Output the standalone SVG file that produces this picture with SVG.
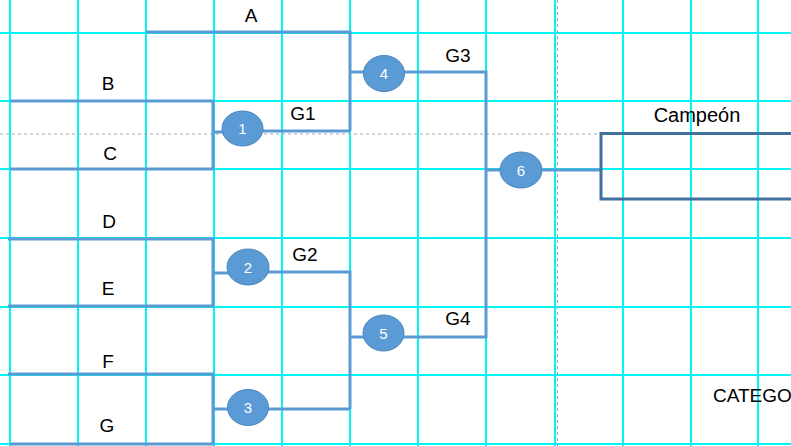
<svg xmlns="http://www.w3.org/2000/svg" width="791" height="446" viewBox="0 0 791 446">
<style>
.grid line{stroke:#00F5F5;stroke-width:2}
.dash{stroke:#A6A6A6;stroke-width:1;stroke-dasharray:3 3}
.br{fill:none;stroke:#5B9BD5;stroke-width:3;stroke-linejoin:miter}
.node ellipse{fill:#5B9BD5;stroke:#4A86BE;stroke-width:1}
.num{font-family:"Liberation Sans",Arial,sans-serif;font-size:15px;fill:#FFFFFF;text-anchor:middle}
.lbl{font-family:"Liberation Sans",Arial,sans-serif;font-size:19px;fill:#000000;text-anchor:middle}
</style>
<rect width="791" height="446" fill="#FFFFFF"/>
<g class="grid">
<line x1="10" y1="0" x2="10" y2="446"/>
<line x1="78" y1="0" x2="78" y2="446"/>
<line x1="146" y1="0" x2="146" y2="446"/>
<line x1="214" y1="0" x2="214" y2="446"/>
<line x1="282" y1="0" x2="282" y2="446"/>
<line x1="350" y1="0" x2="350" y2="446"/>
<line x1="418" y1="0" x2="418" y2="446"/>
<line x1="486" y1="0" x2="486" y2="446"/>
<line x1="555" y1="0" x2="555" y2="446"/>
<line x1="623" y1="0" x2="623" y2="446"/>
<line x1="691" y1="0" x2="691" y2="446"/>
<line x1="758" y1="0" x2="758" y2="446"/>
<line x1="0" y1="33" x2="791" y2="33"/>
<line x1="0" y1="101" x2="791" y2="101"/>
<line x1="0" y1="169" x2="791" y2="169"/>
<line x1="0" y1="238" x2="791" y2="238"/>
<line x1="0" y1="307" x2="791" y2="307"/>
<line x1="0" y1="375" x2="791" y2="375"/>
<line x1="0" y1="444" x2="791" y2="444"/>
</g>
<line class="dash" x1="0" y1="134" x2="601" y2="134"/>
<line class="dash" x1="557.5" y1="0" x2="557.5" y2="446"/>
<g id="connectors">
<path class="br" d="M146,32 H350 V131"/>
<path class="br" d="M10,101 H213 V169 H10"/>
<path class="br" d="M213,132 H230"/>
<path class="br" d="M255,131 H350"/>
<path class="br" d="M350,72 H486 V337 H350"/>
<path class="br" d="M8,239 H213 V306 H8"/>
<path class="br" d="M213,273 H235"/>
<path class="br" d="M260,272 H350 V409"/>
<path class="br" d="M8,374 H213 V444 H10"/>
<path class="br" d="M213,409 H350"/>
<path class="br" d="M486,170 H601"/>
</g>
<g id="champion">
<rect x="601" y="133.5" width="200" height="65.5" fill="none" stroke="#41719C" stroke-width="3"/>
<text class="lbl" x="697" y="122" style="font-size:20px">Campeón</text>
</g>
<g id="node1" class="node"><ellipse cx="242.5" cy="128.5" rx="20.5" ry="17.5"/><text class="num" x="242.5" y="134">1</text></g>
<g id="node2" class="node"><ellipse cx="248" cy="267" rx="21" ry="18"/><text class="num" x="248" y="272.5">2</text></g>
<g id="node3" class="node"><ellipse cx="248" cy="407.5" rx="20.5" ry="18"/><text class="num" x="248" y="413">3</text></g>
<g id="node4" class="node"><ellipse cx="384" cy="73.5" rx="20.5" ry="18"/><text class="num" x="384" y="79">4</text></g>
<g id="node5" class="node"><ellipse cx="383.5" cy="333" rx="20.5" ry="18"/><text class="num" x="383.5" y="338.5">5</text></g>
<g id="node6" class="node"><ellipse cx="521" cy="170" rx="21" ry="18"/><text class="num" x="521" y="175.5">6</text></g>
<g id="labels">
<text class="lbl" x="251" y="22">A</text>
<text class="lbl" x="108" y="90">B</text>
<text class="lbl" x="110" y="160">C</text>
<text class="lbl" x="109" y="228">D</text>
<text class="lbl" x="108" y="295">E</text>
<text class="lbl" x="108" y="368">F</text>
<text class="lbl" x="107" y="432">G</text>
<text class="lbl" x="303" y="120">G1</text>
<text class="lbl" x="305" y="261">G2</text>
<text class="lbl" x="458" y="62">G3</text>
<text class="lbl" x="458" y="325">G4</text>
<text class="lbl" x="713" y="402" style="text-anchor:start">CATEGO</text>
</g>
</svg>
